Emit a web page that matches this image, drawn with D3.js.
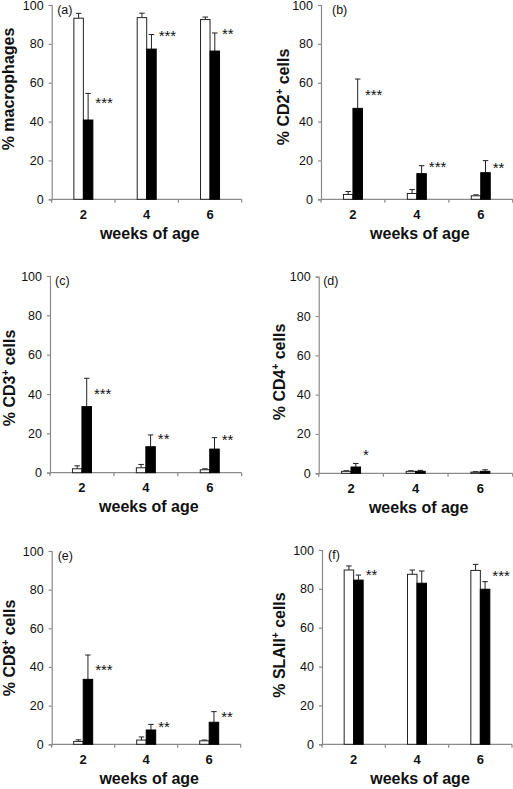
<!DOCTYPE html>
<html>
<head>
<meta charset="utf-8">
<script src="https://cdn.jsdelivr.net/npm/d3@7"></script>
<style>
  html, body { margin: 0; padding: 0; background: #fff; }
  svg { display: block; font-family: "Liberation Sans", Arial, sans-serif; }
</style>
</head>
<body>
<svg id="chart" width="513" height="789"></svg>
<script>
// ---------- data ----------
const categories = ["2", "4", "6"];
const yTickValues = [0, 20, 40, 60, 80, 100];
const xTitle = "weeks of age";

// (a) macrophages
const macroCtrl = [93.2, 93.5, 92.5];
const macroCtrlSD = [2.5, 2.3, 1.3];
const macroMut = [40.8, 77.3, 76.3];
const macroMutSD = [13.7, 7.5, 9.3];
const macroSig = ["***", "***", "**"];
const macroSigAt = [51.6, 86.1, 87.1];

// (b) CD2+
const cd2Ctrl = [2.5, 3.0, 1.8];
const cd2CtrlSD = [1.5, 2.0, 0.5];
const cd2Mut = [46.8, 13.2, 13.7];
const cd2MutSD = [15.1, 4.1, 6.2];
const cd2Sig = ["***", "***", "**"];
const cd2SigAt = [55.7, 18.7, 18.2];

// (c) CD3+
const cd3Ctrl = [2.0, 2.5, 1.5];
const cd3CtrlSD = [1.5, 1.7, 0.5];
const cd3Mut = [33.6, 13.2, 12.0];
const cd3MutSD = [14.4, 6.0, 5.8];
const cd3Sig = ["***", "**", "**"];
const cd3SigAt = [42.0, 19.2, 18.7];

// (d) CD4+
const cd4Ctrl = [1.0, 1.0, 0.6];
const cd4CtrlSD = [0.3, 0.3, 0.2];
const cd4Mut = [3.2, 1.0, 1.0];
const cd4MutSD = [1.8, 0.5, 0.8];
const cd4Sig = ["*", "", ""];
const cd4SigAt = [11.0, 0, 0];

// (e) CD8+
const cd8Ctrl = [1.5, 2.2, 1.8];
const cd8CtrlSD = [0.8, 1.6, 0.4];
const cd8Mut = [33.6, 7.4, 11.4];
const cd8MutSD = [12.6, 2.9, 5.5];
const cd8Sig = ["***", "**", "**"];
const cd8SigAt = [40.1, 11.0, 16.2];

// (f) SLAII+
const slaCtrl = [89.7, 87.5, 89.5];
const slaCtrlSD = [2.1, 2.2, 3.1];
const slaMut = [84.5, 82.9, 79.8];
const slaMutSD = [2.6, 6.3, 3.9];
const slaSig = ["**", "", "***"];
const slaSigAt = [88.8, 0, 88.3];

// ---------- layout ----------
const panels = [
  { tag: "(a)", main: "% macrophages", sup: null, rest: "",
    ctrl: macroCtrl, ctrlSD: macroCtrlSD, mut: macroMut, mutSD: macroMutSD, sig: macroSig, sigAt: macroSigAt,
    x0: 51.7, x1: 241.7, yTop: 5, yBot: 199.3, labX: 13.5, labY: 89, tagDx: 5.5 },
  { tag: "(b)", main: "% CD2", sup: "+", rest: " cells",
    ctrl: cd2Ctrl, ctrlSD: cd2CtrlSD, mut: cd2Mut, mutSD: cd2MutSD, sig: cd2Sig, sigAt: cd2SigAt,
    x0: 321, x1: 512.7, yTop: 5, yBot: 199.3, labX: 289, labY: 97, tagDx: 11 },
  { tag: "(c)", main: "% CD3", sup: "+", rest: " cells",
    ctrl: cd3Ctrl, ctrlSD: cd3CtrlSD, mut: cd3Mut, mutSD: cd3MutSD, sig: cd3Sig, sigAt: cd3SigAt,
    x0: 50, x1: 241.7, yTop: 276, yBot: 472.7, labX: 15, labY: 378, tagDx: 5 },
  { tag: "(d)", main: "% CD4", sup: "+", rest: " cells",
    ctrl: cd4Ctrl, ctrlSD: cd4CtrlSD, mut: cd4Mut, mutSD: cd4MutSD, sig: cd4Sig, sigAt: cd4SigAt,
    x0: 318.7, x1: 512.7, yTop: 276.7, yBot: 473.3, labX: 285, labY: 372, tagDx: 4.5 },
  { tag: "(e)", main: "% CD8", sup: "+", rest: " cells",
    ctrl: cd8Ctrl, ctrlSD: cd8CtrlSD, mut: cd8Mut, mutSD: cd8MutSD, sig: cd8Sig, sigAt: cd8SigAt,
    x0: 51.7, x1: 240.7, yTop: 551, yBot: 744.3, labX: 15, labY: 648, tagDx: 6 },
  { tag: "(f)", main: "% SLAII", sup: "+", rest: " cells",
    ctrl: slaCtrl, ctrlSD: slaCtrlSD, mut: slaMut, mutSD: slaMutSD, sig: slaSig, sigAt: slaSigAt,
    x0: 322, x1: 512, yTop: 550, yBot: 744.3, labX: 285, labY: 645, tagDx: 6 }
];

const svg = d3.select("#chart");
const axisColor = "#8a8a8a";
const barW = 9.5;
const capW = 5.5;

panels.forEach(p => {
  const g = svg.append("g");
  const x = d3.scaleBand().domain(categories).range([p.x0, p.x1]).paddingInner(0).paddingOuter(0);
  const y = d3.scaleLinear().domain([0, 100]).range([p.yBot, p.yTop]);
  const cx = c => x(c) + x.bandwidth() / 2;

  // y axis
  const yAxis = g.append("g").attr("transform", `translate(${p.x0},0)`)
    .call(d3.axisLeft(y).tickValues(yTickValues).tickSize(3).tickPadding(5).tickFormat(d3.format("d")));
  yAxis.select(".domain").attr("stroke", axisColor).attr("stroke-width", 1.2);
  yAxis.selectAll(".tick line").attr("stroke", axisColor).attr("stroke-width", 1.2);
  yAxis.selectAll(".tick text").attr("fill", "#111").style("font-size", "12.5px")
    .style("font-family", "'Liberation Sans', Arial, sans-serif");

  // x axis line with boundary ticks
  g.append("line").attr("x1", p.x0).attr("x2", p.x1).attr("y1", p.yBot).attr("y2", p.yBot)
    .attr("stroke", axisColor).attr("stroke-width", 1.2);
  const bounds = categories.map(c => x(c)).concat([x(categories[categories.length - 1]) + x.bandwidth()]);
  g.selectAll("line.xt").data(bounds).enter().append("line").attr("class", "xt")
    .attr("x1", d => d).attr("x2", d => d).attr("y1", p.yBot).attr("y2", p.yBot + 3.5)
    .attr("stroke", axisColor).attr("stroke-width", 1.2);

  // category labels
  g.selectAll("text.cat").data(categories).enter().append("text").attr("class", "cat")
    .attr("x", d => cx(d)).attr("y", p.yBot + 19.5).attr("text-anchor", "middle")
    .style("font-size", "13px").style("font-weight", "bold").attr("fill", "#111").text(d => d);

  // x title
  g.append("text").attr("x", (p.x0 + p.x1) / 2 + 3).attr("y", p.yBot + 39.5).attr("text-anchor", "middle")
    .style("font-size", "16px").style("font-weight", "bold").attr("fill", "#111").text(xTitle);

  // y title
  const yt = g.append("text").attr("transform", `translate(${p.labX},${p.labY}) rotate(-90)`)
    .attr("text-anchor", "middle").style("font-size", "16px").style("font-weight", "bold").attr("fill", "#111");
  yt.append("tspan").text(p.main);
  if (p.sup) {
    yt.append("tspan").attr("dy", -6).style("font-size", "10px").text(p.sup);
    yt.append("tspan").attr("dy", 6).text(p.rest);
  }

  // panel tag
  g.append("text").attr("x", p.x0 + p.tagDx).attr("y", p.yTop + 8.5)
    .style("font-size", "12.5px").attr("fill", "#111").text(p.tag);

  // bars
  const rows = categories.map((c, i) => ({ c, ctrl: p.ctrl[i], ctrlSD: p.ctrlSD[i], mut: p.mut[i], mutSD: p.mutSD[i], sig: p.sig[i], sigAt: p.sigAt[i] }));

  // error bars (drawn behind the bars, only upper part visible)
  const errs = [];
  rows.forEach(r => {
    errs.push({ xc: cx(r.c) - barW / 2, v: r.ctrl, sd: r.ctrlSD });
    errs.push({ xc: cx(r.c) + barW / 2, v: r.mut, sd: r.mutSD });
  });
  g.selectAll("line.err").data(errs).enter().append("line").attr("class", "err")
    .attr("x1", d => d.xc).attr("x2", d => d.xc).attr("y1", d => y(d.v)).attr("y2", d => y(d.v + d.sd))
    .attr("stroke", "#222").attr("stroke-width", 1);
  g.selectAll("line.cap").data(errs).enter().append("line").attr("class", "cap")
    .attr("x1", d => d.xc - capW / 2).attr("x2", d => d.xc + capW / 2)
    .attr("y1", d => y(d.v + d.sd)).attr("y2", d => y(d.v + d.sd))
    .attr("stroke", "#222").attr("stroke-width", 1);

  g.selectAll("rect.ctrl").data(rows).enter().append("rect").attr("class", "ctrl")
    .attr("x", d => cx(d.c) - barW).attr("width", barW)
    .attr("y", d => y(d.ctrl)).attr("height", d => y(0) - y(d.ctrl))
    .attr("fill", "#fff").attr("stroke", "#222").attr("stroke-width", 1);
  g.selectAll("rect.mut").data(rows).enter().append("rect").attr("class", "mut")
    .attr("x", d => cx(d.c)).attr("width", barW)
    .attr("y", d => y(d.mut)).attr("height", d => y(0) - y(d.mut))
    .attr("fill", "#000").attr("stroke", "#000").attr("stroke-width", 1);

  // significance
  g.selectAll("text.sig").data(rows.filter(r => r.sig)).enter().append("text").attr("class", "sig")
    .attr("x", d => cx(d.c) + barW + 2.5).attr("y", d => y(d.sigAt) + 8.6)
    .style("font-size", "15px").attr("fill", "#111").text(d => d.sig);
});
</script>
</body>
</html>
